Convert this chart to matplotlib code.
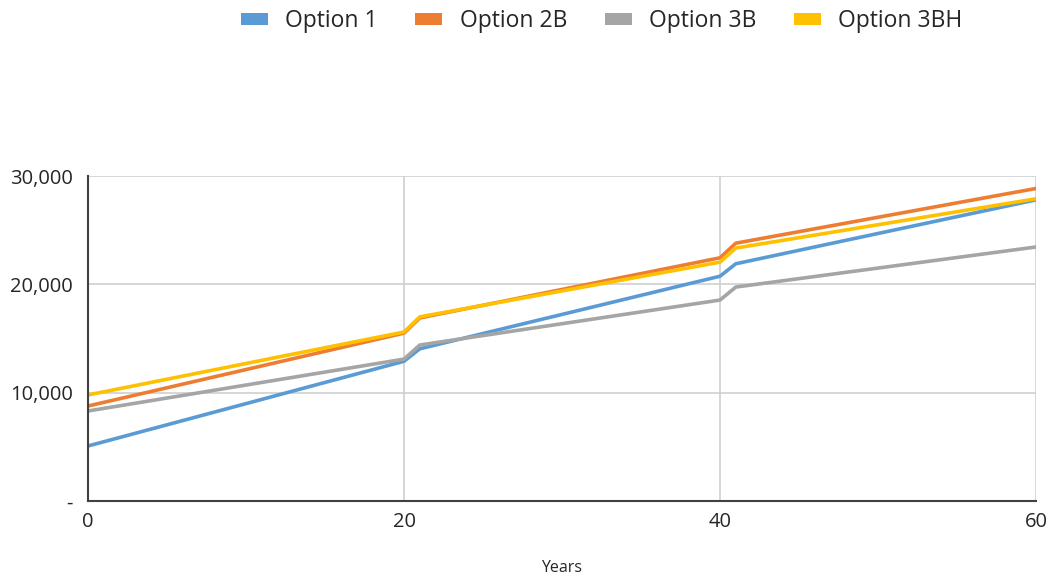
#!/usr/bin/env python3

import matplotlib as mpl
mpl.use('Agg')
import matplotlib.pyplot as plt
from matplotlib.patches import Patch
from matplotlib.ticker import FuncFormatter

mpl.rcParams['font.family'] = ['Open Sans', 'DejaVu Sans']

# breakpoints of each series (years) and values at those years
years = [0, 20, 21, 40, 41, 60]
option_1 = [5080, 12900, 14050, 20750, 21900, 27800]
option_2b = [8770, 15500, 16900, 22450, 23800, 28850]
option_3b = [8310, 13100, 14400, 18550, 19750, 23450]
option_3bh = [9790, 15600, 17000, 22050, 23350, 27900]

series_names = ['Option 1', 'Option 2B', 'Option 3B', 'Option 3BH']
series_values = [option_1, option_2b, option_3b, option_3bh]
colors = ['#5B9BD5', '#ED7D31', '#A5A5A5', '#FFC000']

x_ticks = [0, 20, 40, 60]
y_ticks = [0, 10000, 20000, 30000]


def thousands(v, pos):
    if v == 0:
        return '-'
    return '{:,.0f}'.format(v)


fig = plt.figure(figsize=(10.63, 5.84), dpi=100)
ax = fig.add_axes([0.0828, 0.1421, 0.8918, 0.5565])

for name, vals, c in zip(series_names, series_values, colors):
    ax.plot(years, vals, color=c, linewidth=2.6, label=name,
            solid_joinstyle='round', zorder=3)

ax.set_xlim(0, 60)
ax.set_ylim(0, 30000)
ax.set_xticks(x_ticks)
ax.set_yticks(y_ticks)
ax.yaxis.set_major_formatter(FuncFormatter(thousands))
ax.grid(True, color='#CFCFCF', linewidth=1.2, zorder=0)
ax.tick_params(length=0, labelsize=14.5, colors='#262626', pad=11)
ax.tick_params(axis='x', pad=8)

for side in ['top', 'right']:
    ax.spines[side].set_visible(False)
for side in ['left', 'bottom']:
    ax.spines[side].set_color('#404040')
    ax.spines[side].set_linewidth(1.5)
    ax.spines[side].set_zorder(4)

ax.set_xlabel('Years', fontsize=11.5, color='#262626', labelpad=20)

# legend along the top with wide colour swatches
handles = [Patch(facecolor=c, edgecolor='none') for c in colors]
fig.legend(handles, series_names, loc='upper center', ncol=4,
           bbox_to_anchor=(0.566, 1.02), frameon=False, fontsize=16.5,
           handlelength=1.18, handleheight=0.4, handletextpad=0.75,
           columnspacing=1.65, labelcolor='#262626')

fig.savefig('out.png', dpi=100)
